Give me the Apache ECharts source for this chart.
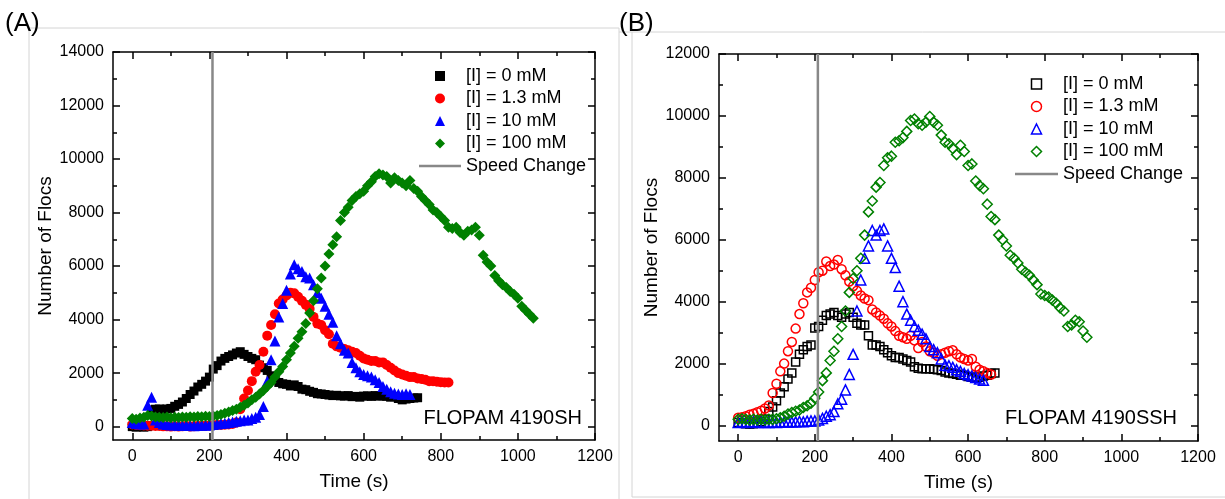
<!DOCTYPE html>
<html lang="en">
<head>
	<meta charset="utf-8">
	<title>Number of Flocs vs Time</title>
	<script type="text/javascript" src="https://cdn.jsdelivr.net/npm/echarts@6.0.0/dist/echarts.min.js"></script>
	<style type="text/css">
		body{ margin:0; background:#fff; }
		#chartmain{ width:1225px; height:499px; }
	</style>
</head>
<body>
	<div id="chartmain"></div>
	<script type="text/javascript">

		// ---- data (time in s, number of flocs) ----
		var timeA = [0,10,20,30,40,50,60,70,80,90,100,110,120,130,140,150,160,170,180,190,
			200,210,220,230,240,250,260,270,280,290,300,310,320,330,340,350,360,370,380,390,
			400,410,420,430,440,450,460,470,480,490,500,510,520,530,540,550,560,570,580,590,
			600,610,620,630,640,650,660,670,680,690,700,710,720,730,740,750,760,770,780,790,
			800,810,820,830,840,850,860,870,880,890,900,910,920,930,940,950,960,970,980,990,
			1000,1010,1020,1030,1040];
		var timeB = timeA;

		// panel A : FLOPAM 4190SH
		var blackA = [0,-20,0,-20,0,620,650,660,640,660,
			680,760,830,920,1050,1200,1330,1480,1580,1700,
			1850,2150,2280,2450,2550,2620,2680,2750,2800,2700,
			2620,2550,2500,2300,2200,2100,1900,1800,1650,1600,
			1580,1520,1560,1500,1400,1380,1320,1280,1230,1220,
			1200,1180,1160,1170,1150,1140,1160,1120,1130,1100,
			1140,1150,1130,1160,1140,1150,1130,1100,1120,1050,
			1000,1030,1050,1070,1080];
		var redA = [80,60,50,40,30,30,20,20,10,10,
			0,10,0,10,20,0,10,20,20,30,
			40,50,60,60,70,80,100,150,650,1050,
			1350,1700,2050,2300,2800,3400,3800,4200,4600,4750,
			4900,5000,4980,4850,4700,4550,4400,4100,3850,3800,
			3600,3450,3100,3000,2950,2900,2850,2800,2750,2650,
			2550,2500,2450,2450,2400,2400,2300,2200,2100,2000,
			1950,1900,1850,1850,1800,1780,1750,1700,1700,1680,
			1660,1650,1650];
		var blueA = [150,120,100,100,800,1100,250,150,100,80,
			60,60,50,40,50,40,30,40,50,50,
			60,80,100,120,130,150,170,200,220,250,
			250,300,350,450,750,1700,2500,3200,4100,4600,
			5100,5700,6050,5900,5800,5600,5550,5300,5000,4800,
			4500,4200,3900,3400,3100,2850,2750,2400,2200,2050,
			1950,1900,1850,1750,1650,1500,1400,1300,1250,1220,
			1200,1230,1200];
		var greenA = [300,280,320,350,420,400,360,350,340,360,
			330,350,340,360,350,370,360,380,370,390,
			380,400,420,450,500,550,600,650,720,800,
			880,1000,1100,1220,1350,1500,1650,1850,2050,2250,
			2500,2750,3000,3300,3550,3850,4250,4700,5150,5550,
			6000,6450,6800,7100,7700,8000,8200,8450,8600,8700,
			8800,9000,9150,9350,9450,9400,9350,9100,9300,9200,
			9100,9000,9200,8900,8800,8600,8450,8300,8100,8000,
			7850,7700,7450,7400,7450,7250,7150,7300,7350,7450,
			7150,6400,6150,6000,5650,5450,5300,5200,5050,4950,
			4800,4500,4350,4200,4050];

		// panel B : FLOPAM 4190SSH
		var blackB = [100,80,60,50,60,80,120,200,450,600,
			800,1050,1250,1500,1700,2050,2300,2450,2550,2600,
			3150,3200,3400,3550,3600,3650,3550,3500,3600,3650,
			3500,3300,3250,3250,2900,2600,2600,2550,2450,2350,
			2250,2200,2200,2150,2100,2050,1900,1850,1830,1830,
			1830,1820,1800,1780,1730,1700,1680,1660,1620,1620,
			1580,1560,1560,1560,1600,1620,1680,1700];
		var redB = [250,270,300,350,380,430,480,550,650,1050,
			1350,1750,2000,2400,2700,3130,3600,3950,4300,4450,
			4700,4950,5000,5300,5150,5200,5350,5050,4850,4650,
			4500,4350,4200,4100,4050,3750,3650,3550,3450,3300,
			3200,3050,2900,2850,2800,2900,2750,2500,2700,2550,
			2400,2350,2250,2300,2350,2400,2430,2300,2200,2150,
			2100,2150,1900,1800,1750,1700,1650];
		var blueB = [100,120,100,110,120,100,110,100,100,110,
			100,110,120,110,110,120,130,120,140,150,
			150,180,230,300,350,450,700,850,1150,1650,
			2300,3700,4700,5400,5800,6300,6150,6300,6350,5800,
			5400,5100,4500,4000,3600,3400,3200,3080,2950,2800,
			2550,2450,2350,2150,1950,1930,1880,1800,1750,1680,
			1640,1600,1550,1500,1460];
		var greenB = [200,220,200,180,200,180,200,180,200,200,
			220,250,300,370,420,460,500,580,640,720,
			880,1080,1450,1700,2100,2400,2800,3200,3700,4300,
			4750,5000,5400,6150,6900,7250,7700,7850,8400,8650,
			8700,9150,9200,9300,9500,9850,9900,9750,9700,9800,
			9980,9800,9700,9380,9150,9100,8950,8750,9050,8850,
			8400,8450,7900,7750,7650,7150,6750,6650,6150,6000,
			5800,5500,5400,5250,5050,4950,4850,4700,4550,4250,
			4200,4150,4050,3950,3800,3700,3200,3250,3400,3350,
			3050,2850];

		var speedChange = 208;
		var names = ['[I] = 0 mM','[I] = 1.3 mM','[I] = 10 mM','[I] = 100 mM','Speed Change'];

		// tick labels
		var xMajor = [0,200,400,600,800,1000,1200];
		var xMinor = [100,300,500,700,900,1100];
		var yMajorA = [0,2000,4000,6000,8000,10000,12000,14000];
		var yMinorA = [1000,3000,5000,7000,9000,11000,13000];
		var yMajorB = [0,2000,4000,6000,8000,10000,12000];
		var yMinorB = [1000,3000,5000,7000,9000,11000];

		var FONT = "'Liberation Sans', Arial, sans-serif";
		var AX = {color:'#000', width:1.5};

		function pairs(t, v){
			var out = [];
			for (var i = 0; i < v.length; i++) out.push([t[i], v[i]]);
			return out;
		}

		// 4 axes for one side pair: main + minor ticks, mirrored on the opposite side
		function axes(dim, grid, min, max, major, minor, name, gap){
			var sides = dim == 'x' ? ['bottom','top'] : ['left','right'];
			var list = [];
			sides.forEach(function(pos, k){
				list.push({
					gridIndex:grid, type:'value', position:pos, min:min, max:max,
					name: k == 0 ? name : '', nameLocation:'middle', nameGap:gap,
					nameTextStyle:{fontSize:19, color:'#000', fontFamily:FONT},
					axisLine:{show:true, onZero:false, lineStyle:AX},
					axisTick:{inside:true, length:7, customValues:major, lineStyle:AX},
					axisLabel:{show:k == 0, customValues:major, fontSize:16, color:'#000', margin:9, fontFamily:FONT,
						formatter:function(v){ return String(v); }},
					splitLine:{show:false}
				});
				list.push({
					gridIndex:grid, type:'value', position:pos, min:min, max:max,
					axisLine:{show:false, onZero:false},
					axisTick:{inside:true, length:4, customValues:minor, lineStyle:AX},
					axisLabel:{show:false},
					splitLine:{show:false}
				});
			});
			return list;
		}

		function scatter(name, data, xi, symbol, size, color, open){
			return {
				name:name, type:'scatter', xAxisIndex:xi, yAxisIndex:xi,
				symbol:symbol, symbolSize:size, data:data,
				itemStyle: open ? {color:'rgba(0,0,0,0)', borderColor:color, borderWidth:1.5, opacity:1} : {color:color, opacity:1},
				emphasis:{disabled:true}
			};
		}

		// legend icons as paths so they keep their shape inside the wide item box
		var legendIcons = [
			'path://M0,0H10V10H0Z',
			'path://M0,5A5,5,0,1,1,10,5A5,5,0,1,1,0,5Z',
			'path://M5,0L10,10H0Z',
			'path://M5,0L10,5L5,10L0,5Z'
		];

		function legendItems(open){
			var cols = ['#000','#ff0000','#0000ff','#008000'];
			var items = [];
			for (var i = 0; i < 4; i++){
				items.push({name:names[i], icon:legendIcons[i],
					itemStyle: open ? {color:'rgba(0,0,0,0)', borderColor:cols[i], borderWidth:1.5, opacity:1} : {color:cols[i], borderWidth:0, opacity:1}});
			}
			items.push({name:names[4], icon:'path://M0,0H42V2.5H0Z', itemStyle:{color:'#888', borderWidth:0}});
			return items;
		}

		var myChart = echarts.init(document.getElementById("chartmain"), null, {renderer:'canvas'});

		option = {
			backgroundColor:'#fff',
			animation:false,
			grid:[
				{left:113, top:52, width:482, height:388, outerBoundsMode:'none'},
				{left:719, top:54, width:479, height:387, outerBoundsMode:'none'}
			],
			xAxis: axes('x',0,-50,1200,xMajor,xMinor,'Time (s)',32)
				.concat(axes('x',1,-50,1200,xMajor,xMinor,'Time (s)',32)),
			yAxis: axes('y',0,-500,14000,yMajorA,yMinorA,'Number of Flocs',58)
				.concat(axes('y',1,-500,12000,yMajorB,yMinorB,'Number of Flocs',58)),
			legend:[
				{orient:'vertical', left:414, top:61, itemWidth:42, itemHeight:10, itemGap:2.5, selectedMode:false,
					textStyle:{fontSize:18, color:'#000', lineHeight:20, fontFamily:FONT}, data:legendItems(false)},
				{orient:'vertical', left:1010, top:69, itemWidth:43, itemHeight:10, itemGap:2.5, selectedMode:false,
					textStyle:{fontSize:18, color:'#000', lineHeight:20, fontFamily:FONT}, data:legendItems(true)}
			],
			series:[
				scatter(names[0], pairs(timeA, blackA), 0, 'rect', 9, '#000', false),
				scatter(names[1], pairs(timeA, redA), 0, 'circle', 10, '#ff0000', false),
				scatter(names[2], pairs(timeA, blueA), 0, 'triangle', 11, '#0000ff', false),
				scatter(names[3], pairs(timeA, greenA), 0, 'diamond', 11, '#008000', false),
				{name:names[4], type:'line', xAxisIndex:0, yAxisIndex:0, symbol:'none', z:5, silent:true,
					lineStyle:{color:'#888', width:2.5}, itemStyle:{color:'#888'},
					data:[[speedChange,-500],[speedChange,14000]]},

				scatter(names[0], pairs(timeB, blackB), 4, 'rect', 8, '#000', true),
				scatter(names[1], pairs(timeB, redB), 4, 'circle', 9, '#ff0000', true),
				scatter(names[2], pairs(timeB, blueB), 4, 'triangle', 10, '#0000ff', true),
				scatter(names[3], pairs(timeB, greenB), 4, 'diamond', 10, '#008000', true),
				{name:names[4], type:'line', xAxisIndex:4, yAxisIndex:4, symbol:'none', z:5, silent:true,
					lineStyle:{color:'#888', width:2.5}, itemStyle:{color:'#888'},
					data:[[speedChange,-500],[speedChange,12000]]}
			],
			graphic:[
				{type:'polyline', silent:true, shape:{points:[[29,505],[29,28],[619,28],[619,505]]},
					style:{stroke:'#d4d4d4', lineWidth:1, fill:null}},
				{type:'polyline', silent:true, shape:{points:[[619,32],[1230,32]]},
					style:{stroke:'#d4d4d4', lineWidth:1, fill:null}},
				{type:'polyline', silent:true, shape:{points:[[632,32],[632,497],[1230,497]]},
					style:{stroke:'#d4d4d4', lineWidth:1, fill:null}},
				{type:'text', left:5, top:11, style:{text:'(A)', fontSize:26, fill:'#000', fontFamily:FONT}},
				{type:'text', left:619, top:11, style:{text:'(B)', fontSize:26, fill:'#000', fontFamily:FONT}},
				{type:'text', x:582, y:418, style:{text:'FLOPAM 4190SH', fontSize:20, fill:'#000', fontFamily:FONT, align:'right', verticalAlign:'middle'}},
				{type:'text', x:1177, y:418, style:{text:'FLOPAM 4190SSH', fontSize:20, fill:'#000', fontFamily:FONT, align:'right', verticalAlign:'middle'}}
			]
		};

		myChart.setOption(option);

	</script>
</body>
</html>
